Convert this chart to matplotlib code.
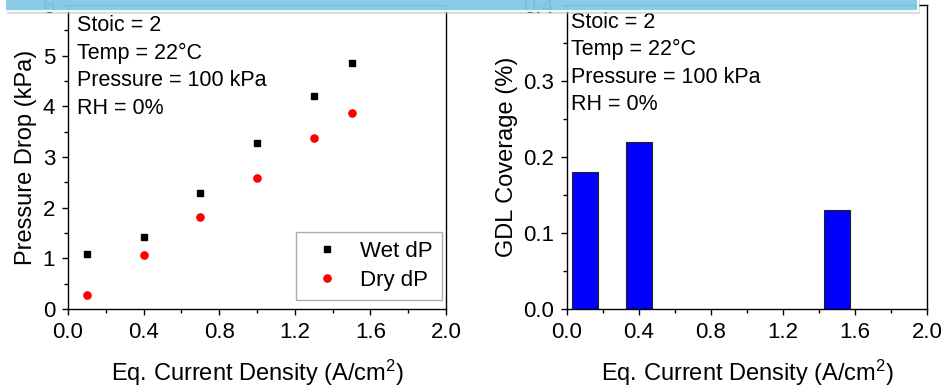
import matplotlib
matplotlib.use("Agg")
import matplotlib.pyplot as plt
from matplotlib.patches import Rectangle
from matplotlib.ticker import MultipleLocator

plt.rcParams['font.family'] = ['Liberation Sans', 'DejaVu Sans']
plt.rcParams['mathtext.fontset'] = 'custom'
plt.rcParams['mathtext.rm'] = 'Liberation Sans'
plt.rcParams['mathtext.it'] = 'Liberation Sans:italic'

# Pressure drop data
current_density = [0.1, 0.4, 0.7, 1.0, 1.3, 1.5]
wet_dp = [1.08, 1.42, 2.29, 3.28, 4.21, 4.86]
dry_dp = [0.28, 1.07, 1.82, 2.59, 3.37, 3.86]

# GDL coverage data
coverage_x = [0.1, 0.4, 1.5]
coverage = [0.18, 0.22, 0.13]

conditions = ["Stoic = 2", "Temp = 22\u00b0C", "Pressure = 100 kPa", "RH = 0%"]
xlabel = r"Eq. Current Density (A/cm$^2$)"

W, H = 951, 390
fig = plt.figure(figsize=(W / 100, H / 100), dpi=100)
fig.patch.set_facecolor("white")

TICK_FS = 16
LABEL_FS = 17
NOTE_FS = 15.5
LEGEND_FS = 16


def px_axes(x0, x1, y0, y1):
    return fig.add_axes([x0 / W, 1 - y1 / H, (x1 - x0) / W, (y1 - y0) / H])


def style(ax):
    ax.tick_params(axis="both", which="major", direction="out", length=4.3,
                   width=1, labelsize=TICK_FS, top=False, right=False, pad=5)
    ax.tick_params(axis="both", which="minor", direction="out", length=3,
                   width=1, top=False, right=False)
    for s in ax.spines.values():
        s.set_linewidth(1.0)
        s.set_color("black")


# Left panel: pressure drop
ax1 = px_axes(68, 446, 5, 309)
ax1.plot(current_density, wet_dp, linestyle="none", marker="s", markersize=4.8,
         color="black", label="Wet dP")
ax1.plot(current_density, dry_dp, linestyle="none", marker="o", markersize=5.2,
         color="red", label="Dry dP")
ax1.set_xlim(0, 2.0)
ax1.set_ylim(0, 6)
ax1.xaxis.set_major_locator(MultipleLocator(0.4))
ax1.xaxis.set_minor_locator(MultipleLocator(0.2))
ax1.yaxis.set_major_locator(MultipleLocator(1))
ax1.yaxis.set_minor_locator(MultipleLocator(0.5))
ax1.set_xticklabels([f"{v:.1f}" for v in ax1.get_xticks()])
style(ax1)
ax1.set_xlabel(xlabel, fontsize=LABEL_FS, labelpad=11)
ax1.set_ylabel("Pressure Drop (kPa)", fontsize=LABEL_FS, labelpad=4)
leg = ax1.legend(loc="lower right", fontsize=LEGEND_FS, frameon=True,
                 fancybox=False, edgecolor="#999999", borderpad=0.4,
                 handlelength=2.0, handletextpad=0.5, labelspacing=0.35,
                 borderaxespad=0, bbox_to_anchor=(0.989, 0.030))
leg.get_frame().set_linewidth(1.0)
note_y1 = [0.931, 0.842, 0.750, 0.661]
for t, y in zip(conditions, note_y1):
    ax1.text(0.024, y, t, transform=ax1.transAxes,
             fontsize=NOTE_FS, va="center", ha="left")

# Right panel: GDL coverage
ax2 = px_axes(567, 927, 5, 309)
ax2.bar(coverage_x, coverage, width=0.144, color="#0000ff",
        edgecolor="#222222", linewidth=0.8)
ax2.set_xlim(0, 2.0)
ax2.set_ylim(0, 0.4)
ax2.xaxis.set_major_locator(MultipleLocator(0.4))
ax2.xaxis.set_minor_locator(MultipleLocator(0.2))
ax2.yaxis.set_major_locator(MultipleLocator(0.1))
ax2.yaxis.set_minor_locator(MultipleLocator(0.05))
ax2.set_xticklabels([f"{v:.1f}" for v in ax2.get_xticks()])
ax2.set_yticklabels([f"{v:.1f}" for v in ax2.get_yticks()])
style(ax2)
ax2.set_xlabel(xlabel, fontsize=LABEL_FS, labelpad=11)
ax2.set_ylabel("GDL Coverage (%)", fontsize=LABEL_FS, labelpad=4)
note_y2 = [0.944, 0.855, 0.763, 0.674]
for t, y in zip(conditions, note_y2):
    ax2.text(0.011, y, t, transform=ax2.transAxes,
             fontsize=NOTE_FS, va="center", ha="left")

# Header banner across the top, with a soft shadow and white rim
shadow = Rectangle((7 / W, 1 - 14 / H), (913 / W), 14 / H,
                   transform=fig.transFigure, facecolor="#bbbbbb",
                   alpha=0.5, edgecolor="none", zorder=20)
banner = Rectangle((5 / W, 1 - 11 / H), (913 / W), 12 / H,
                   transform=fig.transFigure, facecolor="#7ecbe6",
                   alpha=0.9, edgecolor="white", linewidth=1.5, zorder=21)
fig.patches.extend([shadow, banner])

fig.savefig("out.png", dpi=100, facecolor="white")
